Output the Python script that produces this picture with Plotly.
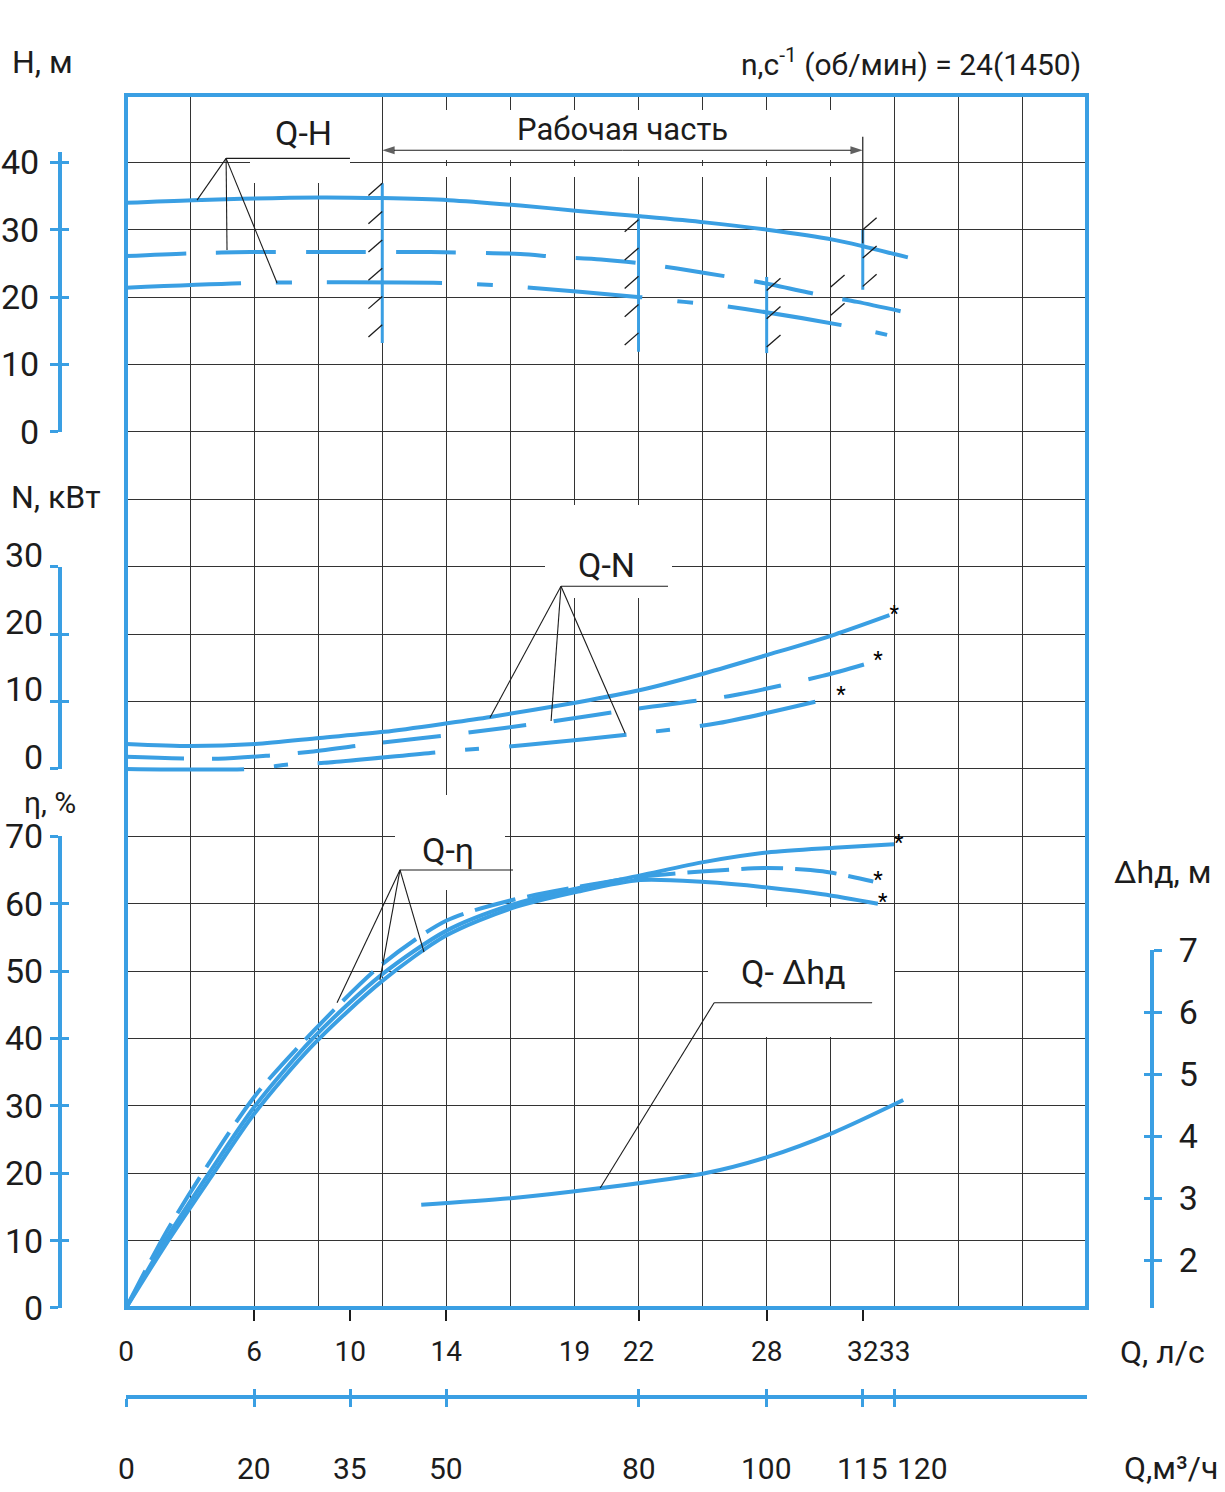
import numpy as np
import plotly.graph_objects as go

# ======================= DATA =======================
# bottom scales
Q_LABELS = ["0", "6", "10", "14", "19", "22", "28", "32", "33"]          # Q, l/s
Q_LABEL_M3H = [0, 20, 35, 50, 70, 80, 100, 115, 120]                      # m3/h equivalent of each l/s label
Q_TICK_M3H = [20, 35, 50, 80, 100, 115]                                   # l/s labels that carry a tick mark
M3H_TICKS = [0, 20, 35, 50, 80, 100, 115, 120]                            # Q, m3/h
H_TICKS = [0, 10, 20, 30, 40]
N_TICKS = [0, 10, 20, 30]
ETA_TICKS = [0, 10, 20, 30, 40, 50, 60, 70]
DH_TICKS = [2, 3, 4, 5, 6, 7]

# Q-H curves (Q l/s, H m)
QH_A_Q = [0, 2.9, 8.4, 11.1, 14.0, 17.1, 19.6, 22.3, 25.1, 27.8, 30.7, 31.9, 33.9]
QH_A_H = [34.0, 34.4, 34.8, 34.7, 34.4, 33.6, 32.8, 32.0, 31.1, 30.0, 28.5, 27.6, 25.9]
QH_B_Q = [0, 2.7, 5.4, 9.3, 13.2, 17.1, 18.6, 20.6, 22.6, 25.1, 27.8, 30.4, 31.7, 34.0]
QH_B_H = [26.1, 26.5, 26.7, 26.7, 26.7, 26.4, 26.0, 25.6, 24.9, 23.6, 22.0, 20.1, 19.3, 17.6]
QH_C_Q = [0, 5.4, 8.5, 13.8, 15.9, 17.2, 22.3, 24.2, 25.9, 31.1, 33.0]
QH_C_H = [21.4, 22.1, 22.2, 22.1, 21.8, 21.5, 20.0, 19.3, 18.7, 15.8, 14.4]

# Q-N curves (N kW)
QN_A_Q = [0, 2.8, 5.6, 8.4, 11.2, 14.0, 15.8, 19.6, 22.3, 25.1, 27.8, 30.7, 33.1]
QN_A_N = [3.7, 3.4, 3.7, 4.6, 5.5, 6.8, 7.7, 9.9, 11.7, 14.2, 16.9, 19.9, 22.8]
QN_B_Q = [0, 4.0, 6.3, 7.9, 10.6, 14.4, 18.4, 22.3, 26.3, 30.2, 32.4]
QN_B_N = [1.8, 1.5, 2.0, 2.5, 3.7, 5.2, 7.0, 9.0, 10.9, 13.8, 15.9]
QN_C_Q = [0, 5.4, 7.2, 8.6, 13.9, 17.2, 22.3, 25.7, 30.8]
QN_C_N = [0.0, 0.0, 0.7, 0.9, 2.6, 3.5, 5.3, 6.8, 10.7]

# Q-eta curves (%)
QE_A_Q = [0, 1.7, 3.6, 5.6, 8.1, 11.1, 13.9, 16.7, 19.6, 22.3, 25.1, 27.8, 30.7, 33.3]
QE_A_E = [0, 10, 20, 30, 40, 49.5, 56, 59.8, 62.3, 64.2, 66.2, 67.6, 68.3, 68.8]
QE_B_Q = [0, 1.7, 3.6, 5.6, 8.1, 11.1, 13.9, 16.7, 19.6, 22.3, 25.1, 27.8, 30.2, 32.4]
QE_B_E = [0, 11, 21.5, 31.5, 41, 51, 57.5, 60.5, 62.5, 64, 64.8, 65.3, 64.8, 63.3]
QE_C_Q = [0, 1.7, 3.6, 5.6, 8.1, 11.1, 13.9, 16.7, 19.6, 22.3, 25.1, 27.8, 30.2, 32.6]
QE_C_E = [0, 9.3, 19, 29, 39, 48.5, 55.3, 59.3, 61.8, 63.5, 63.2, 62.4, 61.4, 60.0]

# Q-dh curve (m)
QD_Q = [12.8, 16.8, 20.6, 25.1, 27.8, 30.7, 33.7]
QD_D = [2.89, 3.0, 3.16, 3.40, 3.66, 4.06, 4.58]

# working zone (m3/h) and its boundary marks on the Q-H curves
WORK_M3H = [40, 115]
BOUND_M3H = [40, 80, 100, 115]
BOUND_H_TOP = [36.9, 31.7, 23.0, 30.0]
BOUND_H_BOT = [13.2, 11.9, 11.7, 21.1]
HATCH_M3H = [40, 80, 100, 110, 115]
HATCH_H_HI = [36.9, 31.5, 21.0, 21.5, 30.0]
HATCH_H_LO = [15.0, 13.0, 12.0, 17.0, 21.0]
HATCH_SIDE = [-1, -1, 1, 1, 1]

# leader lines: apex (Q, value), end of underline (Q), targets on curves
LEAD_H = dict(apex=(4.34, 40.6), end=9.71, tq=[3.08, 4.38, 6.55], tv=[34.4, 27.0, 22.1])
LEAD_N = dict(apex=(18.86, 27.1), end=23.5, tq=[15.78, 18.43, 21.64], tv=[7.6, 7.1, 5.3])
LEAD_E = dict(apex=(11.88, 65.0), end=16.78, tq=[9.15, 11.01, 12.92], tv=[45.3, 48.7, 52.8])
LEAD_D = dict(apex=(25.5, 6.15), end=32.35, tq=[20.56], tv=[3.16])

# ======================= GEOMETRY / STYLE =======================
W, HT = 1225, 1492
PL, PR, PT, PB = 126, 1087, 95, 1308
ROWS = 18
ROW = (PB - PT) / ROWS
M3H_FULL = 150.0
Q_FULL = M3H_FULL / 3.6
QPX = (PR - PL) / Q_FULL
BLUE = "#3a9fe3"
INK = "#1c1c1c"
GRID = "#333333"
FONT = "Roboto, Liberation Sans, sans-serif"

H_RANGE = [-130, 50]
N_RANGE = [-80, 100]
E_RANGE = [0, 180]
DH_PPM, DH_REF_V, DH_REF_PX = 62.0, 2.0, 1260.0
D_RANGE = [DH_REF_V - (PB - DH_REF_PX) / DH_PPM, DH_REF_V + (DH_REF_PX - PT) / DH_PPM]


def fx(px):
    return px / W


def fy(py):
    return 1 - py / HT


def y_px(v, rng):
    return PB - (v - rng[0]) / (rng[1] - rng[0]) * (PB - PT)


def q_of(px):
    return (px - PL) / QPX


def row_of(py):
    return (PB - py) / ROW


fig = go.Figure()


def add_line(x, y, yaxis, dash="solid", width=4, color=BLUE, shape="spline", xaxis="x"):
    fig.add_trace(go.Scatter(x=x, y=y, xaxis=xaxis, yaxis=yaxis, mode="lines",
                             line=dict(color=color, width=width, dash=dash, shape=shape, smoothing=0.8),
                             hoverinfo="skip", showlegend=False))


def add_dummy(xaxis, yaxis, x, y):
    fig.add_trace(go.Scatter(x=[x], y=[y], xaxis=xaxis, yaxis=yaxis, mode="markers",
                             marker=dict(opacity=0, size=1), hoverinfo="skip", showlegend=False))


for xa in ["x", "x2", "x3", "x4", "x6"]:
    add_dummy(xa, "y", 0, 0)

# ---- curves ----
add_line(QH_A_Q, QH_A_H, "y2")
add_line(QH_B_Q, QH_B_H, "y2", dash="60px,30px")
add_line(QH_C_Q, QH_C_H, "y2", dash="115px,35px,16px,35px")

add_line(QN_A_Q, QN_A_N, "y3")
add_line(QN_B_Q, QN_B_N, "y3", dash="58px,28px")
add_line(QN_C_Q, QN_C_N, "y3", dash="118px,30px,14px,30px")

add_line(QE_A_Q, QE_A_E, "y4")
add_line(QE_B_Q, QE_B_E, "y4", dash="42px,12px")
add_line(QE_C_Q, QE_C_E, "y4")

add_line(QD_Q, QD_D, "y5")

# asterisks at curve ends
for qs, vs, ax in [(QN_A_Q, QN_A_N, "y3"), (QN_B_Q, QN_B_N, "y3"), (QN_C_Q, QN_C_N, "y3"),
                   (QE_A_Q, QE_A_E, "y4"), (QE_B_Q, QE_B_E, "y4"), (QE_C_Q, QE_C_E, "y4")]:
    fig.add_trace(go.Scatter(x=[qs[-1]], y=[vs[-1]], xaxis="x", yaxis=ax, mode="text", text=["*"],
                             textposition="middle right", textfont=dict(size=22, color="#000", family=FONT),
                             cliponaxis=False, hoverinfo="skip", showlegend=False))

# ---- working-zone boundaries (blue) ----
bx, by = [], []
for m, ht, hb in zip(BOUND_M3H, BOUND_H_TOP, BOUND_H_BOT):
    bx += [m / 3.6, m / 3.6, None]
    by += [ht, hb, None]
add_line(bx, by, "y2", width=3, shape="linear")

# hatch marks
HDQ, HDH, HSTEP = 0.6, 1.8, 4.2
hx, hy = [], []
for m, hi, lo, s in zip(HATCH_M3H, HATCH_H_HI, HATCH_H_LO, HATCH_SIDE):
    q = m / 3.6
    for h in np.arange(hi, lo - 0.01, -HSTEP):
        if s < 0:
            hx += [q - HDQ, q, None]
            hy += [h - HDH, h, None]
        else:
            hx += [q, q + HDQ, None]
            hy += [h, h + HDH, None]
add_line(hx, hy, "y2", width=1.3, color=INK, shape="linear")

# working-zone dimension line with arrowheads at both ends
ARROW_H = 41.8
add_line([WORK_M3H[1] / 3.6, WORK_M3H[1] / 3.6], [43.8, 28.0], "y2", width=1.2, color=INK, shape="linear")
mid_q = (WORK_M3H[0] + WORK_M3H[1]) / 2 / 3.6
for m in WORK_M3H:
    fig.add_trace(go.Scatter(x=[mid_q, m / 3.6], y=[ARROW_H, ARROW_H], xaxis="x", yaxis="y2",
                             mode="lines+markers", line=dict(color=INK, width=1.2),
                             marker=dict(symbol="arrow", angleref="previous", size=[0, 13], color=INK,
                                         line=dict(width=0)),
                             cliponaxis=False, hoverinfo="skip", showlegend=False))


# ---- leader lines ----
def leader(d, ax):
    aq, av = d["apex"]
    xs, ys = [aq, d["end"]], [av, av]
    for q, v in zip(d["tq"], d["tv"]):
        xs += [None, aq, q]
        ys += [None, av, v]
    add_line(xs, ys, ax, width=1.1, color=INK, shape="linear")


leader(LEAD_H, "y2")
leader(LEAD_N, "y3")
leader(LEAD_E, "y4")
leader(LEAD_D, "y5")

# ---- scale bars (free axes) ----
axes_layout = {}
BARS = [
    dict(rng=H_RANGE, lo=0, hi=41.5, ticks=H_TICKS, px=60, side="left", stand=4, shift=0),
    dict(rng=N_RANGE, lo=0, hi=30, ticks=N_TICKS, px=60, side="left", stand=0, shift=-12),
    dict(rng=E_RANGE, lo=0, hi=70, ticks=ETA_TICKS, px=60, side="left", stand=0, shift=0),
    dict(rng=D_RANGE, lo=D_RANGE[0], hi=7, ticks=DH_TICKS, px=1152, side="right", stand=10, shift=0),
]
for i, b in enumerate(BARS):
    k = 6 + 2 * i
    dom = [fy(y_px(b["lo"], b["rng"])), fy(y_px(b["hi"], b["rng"]))]
    common = dict(domain=dom, range=[b["lo"], b["hi"]], anchor="free", position=fx(b["px"]),
                  side=b["side"], tickvals=b["ticks"], ticklen=8, tickwidth=3, tickcolor=BLUE,
                  showgrid=False, zeroline=False, fixedrange=True)
    axes_layout[f"yaxis{k}"] = dict(common, ticks="outside", showline=True, linecolor=BLUE, linewidth=4,
                                    tickfont=dict(family=FONT, size=34, color=INK),
                                    ticklabelstandoff=b["stand"], ticklabelshift=b["shift"])
    axes_layout[f"yaxis{k + 1}"] = dict(common, ticks="inside", showline=False, showticklabels=False)
    add_dummy("x5", f"y{k}", 0.5, b["lo"])
    add_dummy("x5", f"y{k + 1}", 0.5, b["lo"])

# ---- white gaps behind labels (hide grid only) ----
GAPS = [(250, 97, 350, 183), (440, 110, 845, 160), (440, 166, 845, 177),
        (545, 505, 672, 598), (395, 795, 505, 890), (708, 907, 894, 1037)]
shapes = []
for x0, y0, x1, y1 in GAPS:
    shapes.append(dict(type="rect", xref="x", yref="y", x0=q_of(x0), x1=q_of(x1),
                       y0=row_of(y1), y1=row_of(y0), fillcolor="white", line=dict(width=0),
                       layer="between"))
shapes.append(dict(type="rect", xref="paper", yref="paper", x0=fx(PL), x1=fx(PR), y0=fy(PB), y1=fy(PT),
                   line=dict(color=BLUE, width=4), layer="above"))

# ---- annotations ----
ann = []
TEXTS = [
    ("H, м", 42, 62, 32, "center"),
    ("n,c<sup>-1</sup> (об/мин) = 24(1450)", 911, 62, 30, "center"),
    ("Q-H", 303, 133, 34, "center"),
    ("Рабочая часть", 622, 130, 31, "center"),
    ("N, кВт", 56, 497, 32, "center"),
    ("Q-N", 606, 565, 34, "center"),
    ("η, %", 50, 802, 30, "center"),
    ("Q-η", 448, 850, 34, "center"),
    ("Δhд, м", 1162, 872, 32, "center"),
    ("Q- Δhд", 793, 972, 34, "center"),
    ("Q, л/с", 1162, 1352, 32, "center"),
    ("Q,м³/ч", 1220, 1468, 32, "right"),
]
for t, x, y, s, anc in TEXTS:
    ann.append(dict(text=t, x=fx(x), y=fy(y), xref="paper", yref="paper", showarrow=False,
                    xanchor=anc, yanchor="middle", font=dict(family=FONT, size=s, color=INK)))

# m3/h labels under the second bar
for i, m in enumerate(M3H_TICKS):
    ann.append(dict(text=str(m), x=m, y=fy(1468), xref="x3", yref="paper", showarrow=False,
                    xanchor="left" if i == len(M3H_TICKS) - 1 else "center", yanchor="middle",
                    font=dict(family=FONT, size=30, color=INK)))

fig.update_layout(
    width=W, height=HT, margin=dict(l=0, r=0, t=0, b=0, autoexpand=False),
    paper_bgcolor="white", plot_bgcolor="rgba(0,0,0,0)", showlegend=False,
    xaxis=dict(domain=[fx(PL), fx(PR)], range=[0, Q_FULL], tick0=0, dtick=Q_FULL / 15, showgrid=True,
               gridcolor=GRID, gridwidth=1.4, showticklabels=False, ticks="", zeroline=False,
               showline=False, anchor="y", fixedrange=True),
    yaxis=dict(domain=[fy(PB), fy(PT)], range=[0, ROWS], dtick=1, showgrid=True, gridcolor=GRID,
               gridwidth=1.4, showticklabels=False, ticks="", zeroline=False, showline=False,
               anchor="x", fixedrange=True),
    xaxis2=dict(overlaying="x", anchor="y", side="bottom", range=[0, Q_FULL],
                tickvals=[m / 3.6 for m in Q_LABEL_M3H], ticktext=Q_LABELS, ticks="",
                showgrid=False, zeroline=False, showline=False, tickangle=0,
                tickfont=dict(family=FONT, size=28, color=INK), ticklabelstandoff=24, fixedrange=True),
    xaxis6=dict(overlaying="x", anchor="y", side="bottom", range=[0, Q_FULL],
                tickvals=[m / 3.6 for m in Q_TICK_M3H], showticklabels=False, ticks="outside", ticklen=12,
                tickwidth=1.5, tickcolor=INK, showgrid=False, zeroline=False, showline=False,
                fixedrange=True),
    xaxis3=dict(overlaying="x", anchor="free", position=fy(1397), side="bottom", range=[0, M3H_FULL],
                tickvals=M3H_TICKS, showticklabels=False, ticks="outside", ticklen=8, tickwidth=3,
                tickcolor=BLUE, showline=True, linecolor=BLUE, linewidth=4, showgrid=False,
                zeroline=False, fixedrange=True),
    xaxis4=dict(overlaying="x", anchor="free", position=fy(1397), side="bottom", range=[0, M3H_FULL],
                tickvals=M3H_TICKS, showticklabels=False, ticks="inside", ticklen=8, tickwidth=3,
                tickcolor=BLUE, showline=False, showgrid=False, zeroline=False, fixedrange=True),
    xaxis5=dict(domain=[fx(PL), fx(PR)], range=[0, 1], visible=False, anchor="y6", fixedrange=True),
    yaxis2=dict(overlaying="y", range=H_RANGE, visible=False, fixedrange=True),
    yaxis3=dict(overlaying="y", range=N_RANGE, visible=False, fixedrange=True),
    yaxis4=dict(overlaying="y", range=E_RANGE, visible=False, fixedrange=True),
    yaxis5=dict(overlaying="y", range=D_RANGE, visible=False, fixedrange=True),
    shapes=shapes, annotations=ann,
)
fig.update_layout(**axes_layout)

fig.write_html("out.html", config={"displayModeBar": False},
               post_script="document.body.style.margin='0';document.body.style.overflow='hidden';")
